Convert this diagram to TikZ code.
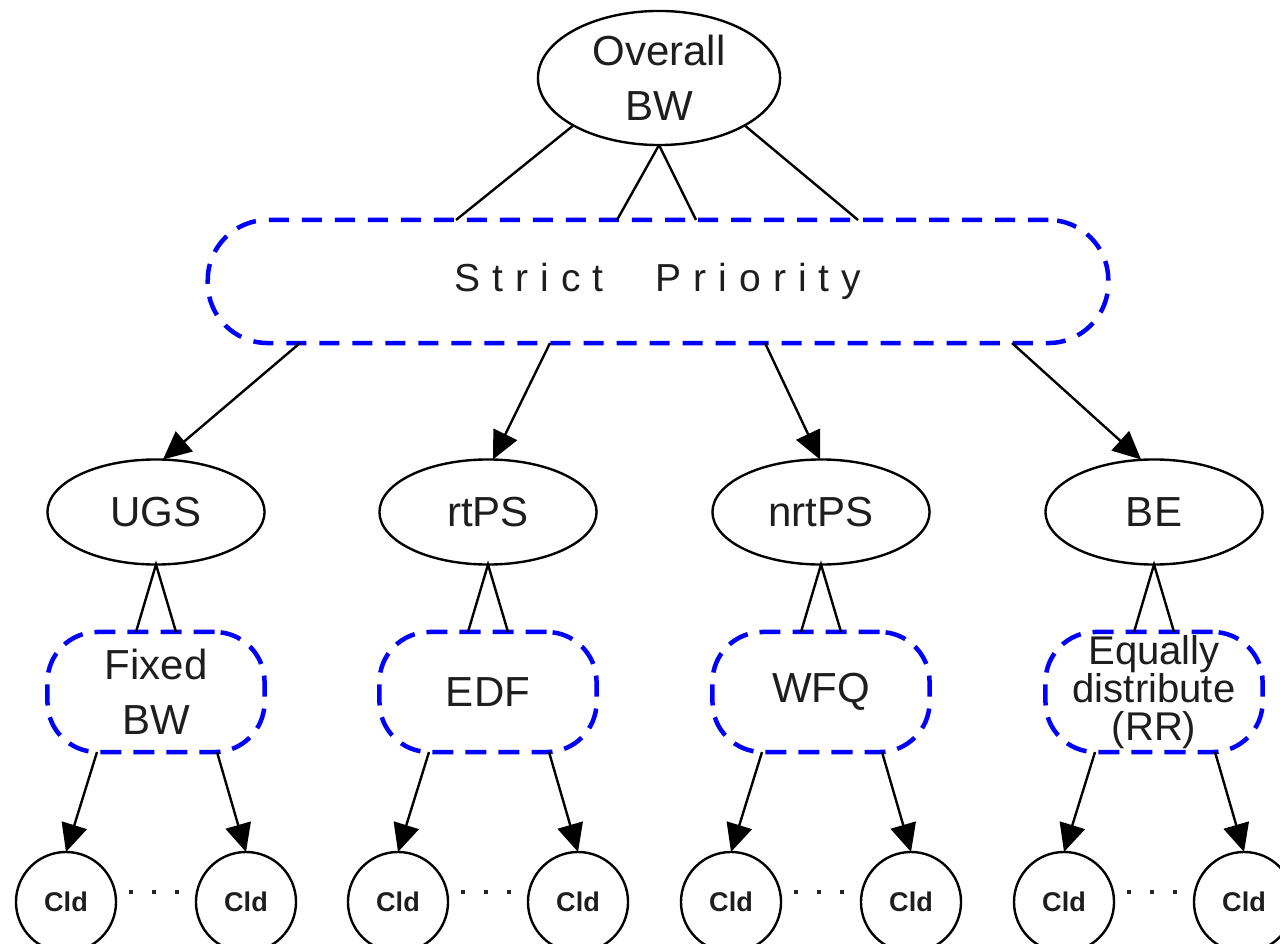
\documentclass[tikz,border=0pt]{standalone}
\usepackage{fontspec}
\setmainfont{Liberation Sans}
\usetikzlibrary{shapes.geometric,arrows.meta,calc}
\definecolor{dashblue}{RGB}{0,0,255}
\definecolor{inkc}{RGB}{30,30,30}
\newcommand{\lsp}{\kern0.12cm}
\begin{document}
\begin{tikzpicture}[x=0.01cm,y=-0.01cm,
  every node/.style={inner sep=0pt,outer sep=0pt,text=inkc},
  blk/.style={draw=black,line width=0.024cm},
  txt/.style={font=\fontsize{11.95}{15.6}\selectfont,align=center},
  ell/.style={blk,ellipse,minimum width=2.17cm,minimum height=1.05cm},
  dbox/.style={draw=dashblue,line width=0.045cm,dash pattern=on 0.21cm off 0.12cm,
    rectangle,rounded corners=0.5cm,minimum width=2.17cm,minimum height=1.2cm},
  cld/.style={blk,circle,minimum size=1.0cm,font=\fontsize{7.7}{9}\selectfont\bfseries},
  arr/.style={blk,-{Triangle[length=0.28cm,width=0.26cm]}},
  dotsline/.style={draw=black!85,line width=0.04cm,dash pattern=on 0.04cm off 0.19cm}
]
\useasboundingbox (0,0) rectangle (1280,943);
\clip (0,0) rectangle (1280,943);

% top
\node[blk,ellipse,minimum width=2.42cm,minimum height=1.34cm,
  label={[txt]center:Overall\\BW}] (ow) at (659,78) {};
\node[draw=dashblue,line width=0.045cm,dash pattern=on 0.2cm off 0.13cm,
  rectangle,rounded corners=0.6cm,minimum width=9.0cm,minimum height=1.23cm,
  font=\fontsize{11.1}{13}\selectfont] (sp) at (658,281.5)
  {S\lsp t\lsp r\lsp i\lsp c\lsp t\kern0.52cm P\lsp r\lsp i\lsp o\lsp r\lsp i\lsp t\lsp y};

\draw[blk] (ow.south west) -- ($(sp.north)+(-202,0)$);
\draw[blk] (ow.south) -- ($(sp.north)+(-41,0)$);
\draw[blk] (ow.south) -- ($(sp.north)+(38,0)$);
\draw[blk] (ow.south east) -- ($(sp.north)+(200,0)$);

% level 2
\node[ell,label={[txt]center:UGS}] (ugs) at (156,512) {};
\node[ell,label={[txt]center:rtPS}] (rtps) at (488,512) {};
\node[ell,label={[txt]center:nrtPS}] (nrtps) at (821,512) {};
\node[ell,label={[txt]center:BE}] (be) at (1154,512) {};

\draw[arr] ($(sp.south)+(-358,0)$) -- ($(ugs.north)+(7,0)$);
\draw[arr] ($(sp.south)+(-108,0)$) -- ($(rtps.north)+(5,0)$);
\draw[arr] ($(sp.south)+(107,0)$) -- ($(nrtps.north)+(-1,0)$);
\draw[arr] ($(sp.south)+(354,0)$) -- ($(be.north)+(-13,0)$);

% level 3
\node[dbox,label={[txt]center:Fixed\\BW}] (fb) at (156,692) {};
\node[dbox,label={[txt]center:EDF}] (edf) at (488,692) {};
\node[dbox,label={[txt]center:WFQ}] (wfq) at (821,692) {};
\node[dbox,label={[align=center,font=\fontsize{11.4}{10.8}\selectfont]center:Equally\\distribute\\(RR)}] (eq) at (1154,692) {};

\foreach \up/\dn in {ugs/fb,rtps/edf,nrtps/wfq,be/eq}{
  \draw[blk] ($(\dn.north)+(-20,0)$) -- (\up.south) -- ($(\dn.north)+(20,0)$);
}

% leaves
\foreach \g/\xc in {fb/156,edf/488,wfq/821,eq/1154}{
  \node[cld] (\g a) at (\xc-90,902) {Cld};
  \node[cld] (\g b) at (\xc+90,902) {Cld};
  \draw[arr] ($(\g.south)+(-59,0)$) -- (\g a.north);
  \draw[arr] ($(\g.south)+(61,0)$) -- (\g b.north);
  \draw[dotsline] ($(\g a.east)+(13,-10)$) -- ($(\g b.west)+(-16,-10)$);
}
\end{tikzpicture}
\end{document}
